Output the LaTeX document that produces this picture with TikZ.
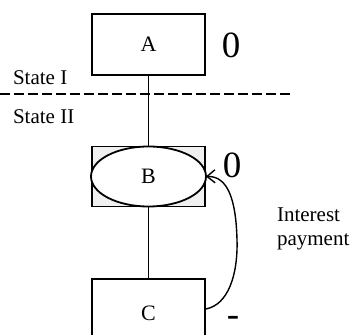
\documentclass[tikz,border=0pt]{standalone}
\usepackage{fontspec}
\setmainfont{Liberation Serif}
\usetikzlibrary{shapes.geometric, arrows.meta, positioning}

\begin{document}
\begin{tikzpicture}[x=0.5pt, y=-0.5pt, every node/.style={font=\fontsize{10.5}{12}\selectfont},
  box/.style={draw, rectangle, line width=0.7pt, minimum width=56.5pt, inner sep=0pt, font=\fontsize{11}{13}\selectfont},
  mark0/.style={font=\fontsize{18.5}{20}\selectfont, inner sep=0pt}]
                    \useasboundingbox (0,0) rectangle (351,335);
                    \node[box, minimum height=30.5pt] (a) at (148.5,44.5) {A};
                    \node[box, minimum height=30pt, line width=0.9pt, fill=gray!12] (bbox) at (148.5,176.5) {};
                    \node[draw, ellipse, line width=0.9pt, fill=white, minimum width=57.5pt, minimum height=30pt, inner sep=0pt, font=\fontsize{11}{13}\selectfont] (b) at (148.5,176.5) {B};
                    \node[box, minimum height=34pt] (c) at (148.5,313) {C};
                    \node[anchor=west] (s1) at (6,78) {State I};
                    \node[anchor=west] (s2) at (6,117) {State II};
                    \draw[dashed, dash pattern=on 5pt off 2pt, line width=0.7pt] (0,94) -- (293,94);
                    \draw[line width=0.7pt] (a) -- (bbox);
                    \draw[line width=0.7pt] (bbox) -- (c);
                    \node[mark0] (za) at (231,45) {0};
                    \node[mark0] (zb) at (232,165) {0};
                    \node[mark0] (zc) at (233,321) {-};
                    \node[anchor=west, align=left] (ip) at (270,229) {Interest\\payment};
                    \draw[line width=0.7pt, -{Straight Barb[length=4pt, width=6.5pt]}] ([yshift=2pt]c.east) .. controls (228,305) and (238,275) .. (237,240) .. controls (236,200) and (228,176) .. (bbox.east);
                \end{tikzpicture}
\end{document}
